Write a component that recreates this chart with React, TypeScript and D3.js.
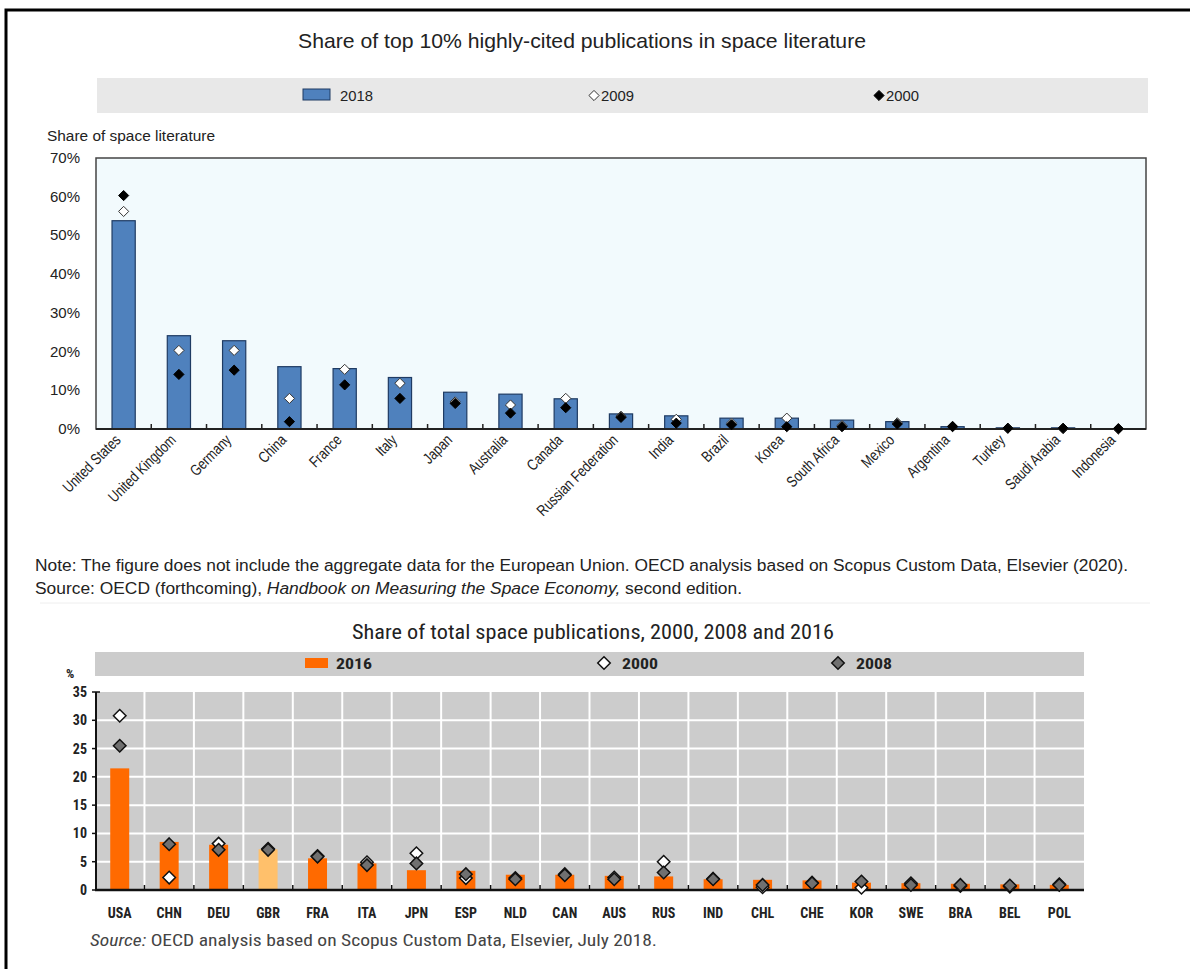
import React from "react";
import * as d3 from "d3";

const topCountries = [
  "United States", "United Kingdom", "Germany", "China", "France", "Italy", "Japan",
  "Australia", "Canada", "Russian Federation", "India", "Brazil", "Korea", "South Africa",
  "Mexico", "Argentina", "Turkey", "Saudi Arabia", "Indonesia",
];
const share2018 = [53.8, 24.1, 22.8, 16.1, 15.6, 13.3, 9.5, 9.0, 7.8, 3.9, 3.4, 2.8, 2.8, 2.3, 1.9, 0.6, 0.3, 0.3, 0.1];
const share2009 = [56.2, 20.3, 20.3, 7.9, 15.4, 11.8, 7.0, 6.2, 7.9, 3.3, 2.5, 1.5, 2.8, 0.9, 1.6, 0.7, 0.2, 0.1, 0.0];
const share2000 = [60.3, 14.1, 15.2, 1.9, 11.4, 7.9, 6.6, 4.1, 5.5, 3.0, 1.5, 1.1, 0.6, 0.6, 1.3, 0.6, 0.2, 0.2, 0.1];
const topTicks = [0, 10, 20, 30, 40, 50, 60, 70];

const codes = ["USA", "CHN", "DEU", "GBR", "FRA", "ITA", "JPN", "ESP", "NLD", "CAN", "AUS", "RUS", "IND", "CHL", "CHE", "KOR", "SWE", "BRA", "BEL", "POL"];
const pub2016 = [21.5, 8.5, 8.0, 7.2, 5.6, 4.7, 3.5, 3.4, 2.7, 2.7, 2.5, 2.4, 1.9, 1.8, 1.7, 1.3, 1.2, 1.1, 1.0, 0.9];
const pub2000 = [30.8, 2.2, 8.2, 7.3, 6.0, 4.9, 6.5, 2.1, 2.1, 2.8, 2.2, 5.0, 2.0, 0.5, 1.3, 0.4, 1.2, 0.7, 0.6, 1.0];
const pub2008 = [25.5, 8.1, 7.1, 7.1, 5.9, 4.4, 4.7, 2.8, 1.9, 2.6, 1.9, 3.1, 1.9, 0.9, 1.2, 1.5, 0.9, 0.9, 0.8, 0.9];
const botTicks = [0, 5, 10, 15, 20, 25, 30, 35];

const NARROW = "'Liberation Sans Narrow', 'Arial Narrow', 'Liberation Sans', Arial, sans-serif";
const COND = "'Roboto Condensed', Roboto, 'Liberation Sans Narrow', sans-serif";

export default function App() {
  // ---------- top chart ----------
  const tx = d3.scaleBand<string>().domain(topCountries).range([96, 1146]).paddingInner(0.58).paddingOuter(0.29);
  const ty = d3.scaleLinear().domain([0, 70]).range([429, 158]);
  const topDiamond = d3.symbol().type(d3.symbolDiamond2).size(66)() as string;
  const step = tx.step();

  // ---------- bottom chart ----------
  const bx = d3.scaleBand<string>().domain(codes).range([95, 1084]).paddingInner(0.616).paddingOuter(0.308);
  const by = d3.scaleLinear().domain([0, 35]).range([890, 692]);
  const botDiamond = d3.symbol().type(d3.symbolDiamond2).size(100)() as string;
  const bstep = bx.step();

  return (
    <svg width={1190} height={969} style={{ position: "absolute", left: 0, top: 0, background: "#fff" }}>
      {/* frame */}
      <path d="M6,975 L6,10 L1195,10" fill="none" stroke="#000" strokeWidth={3} />

      {/* ================= TOP CHART ================= */}
      <text x={582} y={48} textAnchor="middle" fontFamily={NARROW} fontSize={21} fill="#222" textLength={568} lengthAdjust="spacingAndGlyphs">
        Share of top 10% highly-cited publications in space literature
      </text>
      <rect x={97} y={78} width={1051} height={35} fill="#e8e8e8" />
      <rect x={303} y={89} width={27} height={11} fill="#4f81bd" stroke="#1f3b63" strokeWidth={1} />
      <text x={340} y={101} fontFamily={NARROW} fontSize={15} fill="#222" textLength={33} lengthAdjust="spacingAndGlyphs">2018</text>
      <path d={topDiamond} transform="translate(594,95.5)" fill="#fff" stroke="#333" strokeWidth={1} />
      <text x={601} y={101} fontFamily={NARROW} fontSize={15} fill="#222" textLength={33} lengthAdjust="spacingAndGlyphs">2009</text>
      <path d={topDiamond} transform="translate(879,95.5)" fill="#000" stroke="#000" strokeWidth={1} />
      <text x={886} y={101} fontFamily={NARROW} fontSize={15} fill="#222" textLength={33} lengthAdjust="spacingAndGlyphs">2000</text>

      <text x={47} y={141} fontFamily={NARROW} fontSize={14} fill="#222" textLength={168} lengthAdjust="spacingAndGlyphs">Share of space literature</text>

      <rect x={96} y={158} width={1050} height={271} fill="#f2fafd" stroke="#444" strokeWidth={1.5} />
      {topTicks.map((t) => (
        <text key={t} x={80} y={ty(t) + 5} textAnchor="end" fontFamily={NARROW} fontSize={15} fill="#222">
          {t}%
        </text>
      ))}
      {topCountries.map((c, i) => (
        <rect key={c} x={tx(c)!} y={ty(share2018[i])} width={tx.bandwidth()} height={ty(0) - ty(share2018[i])}
          fill="#4f81bd" stroke="#1f3b63" strokeWidth={1.2} />
      ))}
      <line x1={96} x2={1146} y1={429} y2={429} stroke="#222" strokeWidth={2} />
      {topCountries.slice(1).map((c) => (
        <line key={c} x1={tx(c)! - (step - tx.bandwidth()) / 2} x2={tx(c)! - (step - tx.bandwidth()) / 2} y1={429} y2={424} stroke="#222" strokeWidth={1.5} />
      ))}
      {topCountries.map((c, i) => (
        <path key={"w" + c} d={topDiamond} transform={`translate(${tx(c)! + tx.bandwidth() / 2},${ty(share2009[i])})`}
          fill="#fff" stroke="#333" strokeWidth={1} />
      ))}
      {topCountries.map((c, i) => (
        <path key={"b" + c} d={topDiamond} transform={`translate(${tx(c)! + tx.bandwidth() / 2},${ty(share2000[i])})`}
          fill="#000" stroke="#000" strokeWidth={1} />
      ))}
      {topCountries.map((c) => (
        <text key={"l" + c} transform={`translate(${tx(c)! + tx.bandwidth() / 2 - 2},${441}) rotate(-45) scale(0.8,1)`}
          textAnchor="end" fontFamily={NARROW} fontSize={15.5} fill="#222">
          {c}
        </text>
      ))}

      <text x={35} y={571} fontFamily={NARROW} fontSize={16} fill="#222" textLength={1093} lengthAdjust="spacingAndGlyphs">
        Note: The figure does not include the aggregate data for the European Union. OECD analysis based on Scopus Custom Data, Elsevier (2020).
      </text>
      <text x={35} y={594} fontFamily={NARROW} fontSize={16} fill="#222" textLength={707} lengthAdjust="spacingAndGlyphs">
        Source: OECD (forthcoming), <tspan fontStyle="italic">Handbook on Measuring the Space Economy,</tspan> second edition.
      </text>
      <line x1={40} x2={1150} y1={603} y2={603} stroke="#eeeeee" strokeWidth={1} />

      {/* ================= BOTTOM CHART ================= */}
      <text x={593} y={639} textAnchor="middle" fontFamily={COND} fontSize={21} fill="#222" textLength={482} lengthAdjust="spacingAndGlyphs">
        Share of total space publications, 2000, 2008 and 2016
      </text>
      <rect x={95} y={652} width={989} height={24} fill="#cccccc" />
      <rect x={305} y={658} width={23} height={10} fill="#ff6a00" />
      <text x={336} y={669} fontFamily={COND} fontWeight="bold" fontSize={14} fill="#222" textLength={36} lengthAdjust="spacingAndGlyphs">2016</text>
      <path d={botDiamond} transform="translate(604,663)" fill="#fff" stroke="#111" strokeWidth={1.5} />
      <text x={622} y={669} fontFamily={COND} fontWeight="bold" fontSize={14} fill="#222" textLength={36} lengthAdjust="spacingAndGlyphs">2000</text>
      <path d={botDiamond} transform="translate(838,663)" fill="#707070" stroke="#111" strokeWidth={1.5} />
      <text x={856} y={669} fontFamily={COND} fontWeight="bold" fontSize={14} fill="#222" textLength={36} lengthAdjust="spacingAndGlyphs">2008</text>

      <text x={66} y={678} fontFamily={COND} fontWeight="bold" fontSize={13} fill="#222">%</text>

      <rect x={95} y={692} width={989} height={198} fill="#cccccc" />
      {botTicks.slice(1, -1).map((t) => (
        <line key={"g" + t} x1={95} x2={1084} y1={by(t)} y2={by(t)} stroke="#fff" strokeWidth={2} />
      ))}
      {codes.slice(1).map((c) => (
        <line key={"v" + c} x1={bx(c)! - (bstep - bx.bandwidth()) / 2} x2={bx(c)! - (bstep - bx.bandwidth()) / 2} y1={692} y2={890} stroke="#fff" strokeWidth={2} />
      ))}
      {botTicks.map((t) => (
        <g key={"t" + t}>
          <line x1={92} x2={96} y1={by(t)} y2={by(t)} stroke="#111" strokeWidth={1.5} />
          <text x={87} y={by(t) + 5} textAnchor="end" fontFamily={COND} fontWeight="bold" fontSize={14} fill="#222">{t}</text>
        </g>
      ))}
      <line x1={96} x2={96} y1={692} y2={890} stroke="#111" strokeWidth={2} />
      <line x1={96} x2={100} y1={692} y2={692} stroke="#111" strokeWidth={1.5} />
      {codes.map((c, i) => (
        <rect key={"bb" + c} x={bx(c)!} y={by(pub2016[i])} width={bx.bandwidth()} height={by(0) - by(pub2016[i])}
          fill={c === "GBR" ? "#ffc06b" : "#ff6a00"} />
      ))}
      <line x1={95} x2={1084} y1={890} y2={890} stroke="#111" strokeWidth={2.5} />
      {codes.slice(1).map((c) => (
        <line key={"bt" + c} x1={bx(c)! - (bstep - bx.bandwidth()) / 2} x2={bx(c)! - (bstep - bx.bandwidth()) / 2} y1={890} y2={885} stroke="#111" strokeWidth={1.5} />
      ))}
      {codes.map((c, i) => (
        <path key={"d0" + c} d={botDiamond} transform={`translate(${bx(c)! + bx.bandwidth() / 2},${by(pub2000[i])})`}
          fill="#fff" stroke="#111" strokeWidth={1.5} />
      ))}
      {codes.map((c, i) => (
        <path key={"d8" + c} d={botDiamond} transform={`translate(${bx(c)! + bx.bandwidth() / 2},${by(pub2008[i])})`}
          fill="#707070" stroke="#111" strokeWidth={1.5} />
      ))}
      {codes.map((c) => (
        <text key={"bl" + c} x={bx(c)! + bx.bandwidth() / 2} y={918} textAnchor="middle" fontFamily={COND} fontWeight="bold" fontSize={14} fill="#222">
          {c}
        </text>
      ))}
      <text x={90} y={946} fontFamily={COND} fontSize={16} fill="#444" textLength={567} lengthAdjust="spacingAndGlyphs">
        <tspan fontStyle="italic">Source:</tspan> OECD analysis based on Scopus Custom Data, Elsevier, July 2018.
      </text>
    </svg>
  );
}
